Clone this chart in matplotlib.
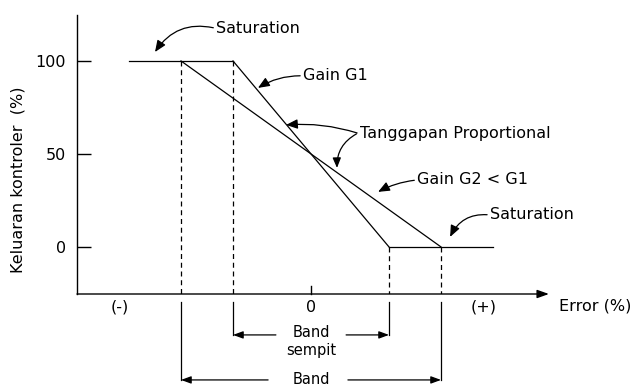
import matplotlib
matplotlib.use("Agg")
import matplotlib.pyplot as plt

# ---- data (error % in arbitrary units, output %) ----
band_narrow = 30          # half-width of narrow band (Gain G1)
band_wide = 50            # half-width of wide band (Gain G2 < G1)
sat_extent = 70           # extent of saturation lines
out_max = 100
out_min = 0
ytick_vals = [0, 50, 100]
ytick_labels = ["0", "50", "100"]
xtick_vals = [-73.5, 0, 66.5]
xtick_labels = ["(-)", "0", "(+)"]

g1_x = [-band_narrow, band_narrow]
g1_y = [out_max, out_min]
g2_x = [-band_wide, band_wide]
g2_y = [out_max, out_min]
satL_x = [-sat_extent, -band_narrow]
satR_x = [band_narrow, sat_extent]

XMIN, XMAX = -90, 90
YMIN, YMAX = -25.3, 124.7

plt.rcParams['font.family'] = ['DejaVu Sans']
fig = plt.figure(figsize=(6.37, 3.87), dpi=100)
W, H = 637, 387
ax = fig.add_axes([77 / W, (H - 294) / H, (545 - 77) / W, (294 - 15) / H])
ax.set_xlim(XMIN, XMAX)
ax.set_ylim(YMIN, YMAX)
for s in ["top", "right", "bottom"]:
    ax.spines[s].set_visible(False)
ax.spines["left"].set_linewidth(1.0)

lw = 0.9
FS = 11.5
# main curves
ax.plot(satL_x, [out_max, out_max], color="black", lw=lw)
ax.plot(satR_x, [out_min, out_min], color="black", lw=lw)
ax.plot(g1_x, g1_y, color="black", lw=lw)
ax.plot(g2_x, g2_y, color="black", lw=lw)

# dashed verticals
dash = (0, (4, 3))
ax.plot([-band_wide, -band_wide], [out_max, YMIN], color="black", lw=lw, ls=dash)
ax.plot([-band_narrow, -band_narrow], [out_max, YMIN], color="black", lw=lw, ls=dash)
ax.plot([band_narrow, band_narrow], [out_min, YMIN], color="black", lw=lw, ls=dash)
ax.plot([band_wide, band_wide], [out_min, YMIN], color="black", lw=lw, ls=dash)

# x-axis with arrow
ax.annotate("", xy=(XMAX + 1.5, YMIN), xytext=(XMIN, YMIN),
            arrowprops=dict(arrowstyle="-|>,head_length=0.7,head_width=0.25",
                            color="black", lw=1.0, shrinkA=0, shrinkB=0),
            annotation_clip=False)

# ticks
ax.set_yticks(ytick_vals)
ax.set_yticklabels(ytick_labels, fontsize=FS)
ax.tick_params(axis="y", direction="in", length=10, width=1.0, pad=8)
ax.set_xticks(xtick_vals)
ax.set_xticklabels(xtick_labels, fontsize=FS)
ax.tick_params(axis="x", direction="in", length=6, width=1.0, pad=4, bottom=False)
ax.plot([0, 0], [YMIN, YMIN + 4.5], color="black", lw=1.0, clip_on=False)

ax.text(95.5, -31.5, "Error (%)", fontsize=FS, ha="left", va="center")
ax.text(-112.5, 36, "Keluaran kontroler  (%)", fontsize=FS, rotation=90,
        ha="center", va="center", clip_on=False)

# band brackets below axis
y_top_br = -29.6
y_narrow = -47.3
y_wide = -71.5
arr = dict(arrowstyle="-|>,head_length=0.6,head_width=0.22", color="black",
           lw=lw, shrinkA=0, shrinkB=0)
for xb, yb, x_start in [(-band_narrow, y_narrow, -13.5), (band_narrow, y_narrow, 13.5),
                        (-band_wide, y_wide, -16.5), (band_wide, y_wide, 14.2)]:
    ax.plot([xb, xb], [y_top_br, yb], color="black", lw=lw, clip_on=False)
    ax.annotate("", xy=(xb, yb), xytext=(x_start, yb), arrowprops=arr,
                annotation_clip=False)
ax.text(0, -51, "Band\nsempit", fontsize=10.5, ha="center", va="center",
        linespacing=1.25)
ax.text(0, -71.5, "Band", fontsize=10.5, ha="center", va="center")

# annotations
carr = dict(arrowstyle="-|>,head_length=0.6,head_width=0.25", color="black",
            lw=lw, shrinkA=0, shrinkB=0)
ax.annotate("Saturation", xy=(-60, 104.8), xytext=(-36.5, 117.5),
            fontsize=FS, va="center", ha="left",
            arrowprops=dict(**carr, connectionstyle="arc3,rad=0.35",
                            relpos=(0, 0.5)))
ax.annotate("Gain G1", xy=(-20.4, 85.5), xytext=(-3.1, 92),
            fontsize=FS, va="center", ha="left",
            arrowprops=dict(**carr, connectionstyle="arc3,rad=0.15",
                            relpos=(0, 0.5)))
ax.annotate("Tanggapan Proportional", xy=(-9.6, 65.6), xytext=(18.8, 60.8),
            fontsize=FS, va="center", ha="left",
            arrowprops=dict(**carr, connectionstyle="arc3,rad=0.1",
                            relpos=(0, 0.5)))
ax.annotate("", xy=(10, 42.5), xytext=(17.5, 60.8),
            arrowprops=dict(**carr, connectionstyle="arc3,rad=0.3"))
ax.annotate("Gain G2 < G1", xy=(25.8, 29.6), xytext=(40.8, 36),
            fontsize=FS, va="center", ha="left",
            arrowprops=dict(**carr, connectionstyle="arc3,rad=0.1",
                            relpos=(0, 0.5)))
ax.annotate("Saturation", xy=(53.5, 5.4), xytext=(68.8, 17.2),
            fontsize=FS, va="center", ha="left",
            arrowprops=dict(**carr, connectionstyle="arc3,rad=0.35",
                            relpos=(0, 0.5)))

fig.savefig("out.png", dpi=100)
